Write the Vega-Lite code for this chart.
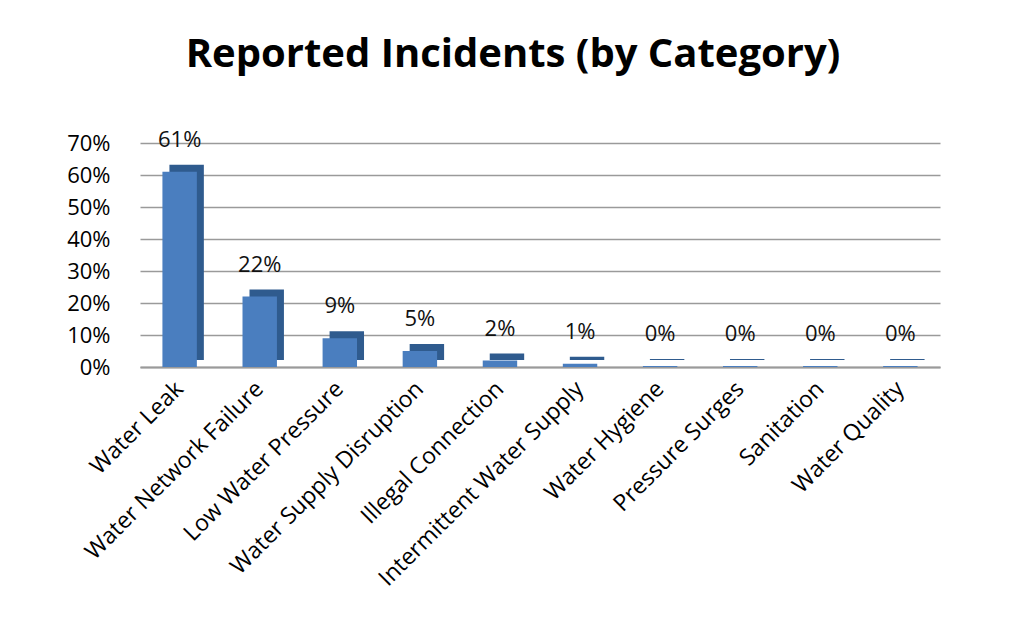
{
  "$schema": "https://vega.github.io/schema/vega-lite/v6.json",
  "autosize": "none",
  "width": 800,
  "height": 224,
  "padding": {"left": 140, "top": 143, "right": 87, "bottom": 268},
  "background": "white",
  "title": {
    "text": "Reported Incidents (by Category)",
    "font": "Open Sans",
    "fontSize": 40,
    "fontWeight": "bold",
    "color": "#000000",
    "offset": 54,
    "dx": -27
  },
  "data": {
    "values": [
      {"category": "Water Leak", "share": 0.61},
      {"category": "Water Network Failure", "share": 0.22},
      {"category": "Low Water Pressure", "share": 0.09},
      {"category": "Water Supply Disruption", "share": 0.05},
      {"category": "Illegal Connection", "share": 0.02},
      {"category": "Intermittent Water Supply", "share": 0.01},
      {"category": "Water Hygiene", "share": 0.003},
      {"category": "Pressure Surges", "share": 0.003},
      {"category": "Sanitation", "share": 0.003},
      {"category": "Water Quality", "share": 0.003}
    ]
  },
  "encoding": {
    "x": {
      "field": "category",
      "type": "nominal",
      "sort": null,
      "title": null,
      "scale": {"paddingInner": 0.57, "paddingOuter": 0.28},
      "axis": {
        "labelAngle": -45,
        "labelAlign": "right",
        "labelBaseline": "middle",
        "labelFont": "Open Sans",
        "labelFontSize": 23,
        "labelColor": "#000000",
        "labelPadding": 18,
        "labelLimit": 400,
        "ticks": false,
        "domainColor": "#9a9a9a",
        "domainWidth": 2
      }
    },
    "y": {
      "field": "share",
      "type": "quantitative",
      "title": null,
      "scale": {"domain": [0, 0.7]},
      "axis": {
        "format": ".0%",
        "values": [0, 0.1, 0.2, 0.3, 0.4, 0.5, 0.6, 0.7],
        "labelFont": "Open Sans",
        "labelFontSize": 22,
        "labelColor": "#000000",
        "labelPadding": 30,
        "ticks": false,
        "domain": false,
        "gridColor": "#9a9a9a",
        "gridWidth": 1.5
      }
    }
  },
  "layer": [
    {
      "mark": {"type": "bar", "color": "#2f5b8e", "xOffset": 7, "yOffset": -7}
    },
    {
      "mark": {"type": "bar", "color": "#4a7ebf"}
    },
    {
      "mark": {"type": "text", "dy": -32, "font": "Open Sans", "fontSize": 22, "color": "#111111"},
      "encoding": {
        "text": {"field": "share", "type": "quantitative", "format": ".0%"}
      }
    }
  ],
  "config": {"view": {"stroke": null}}
}
